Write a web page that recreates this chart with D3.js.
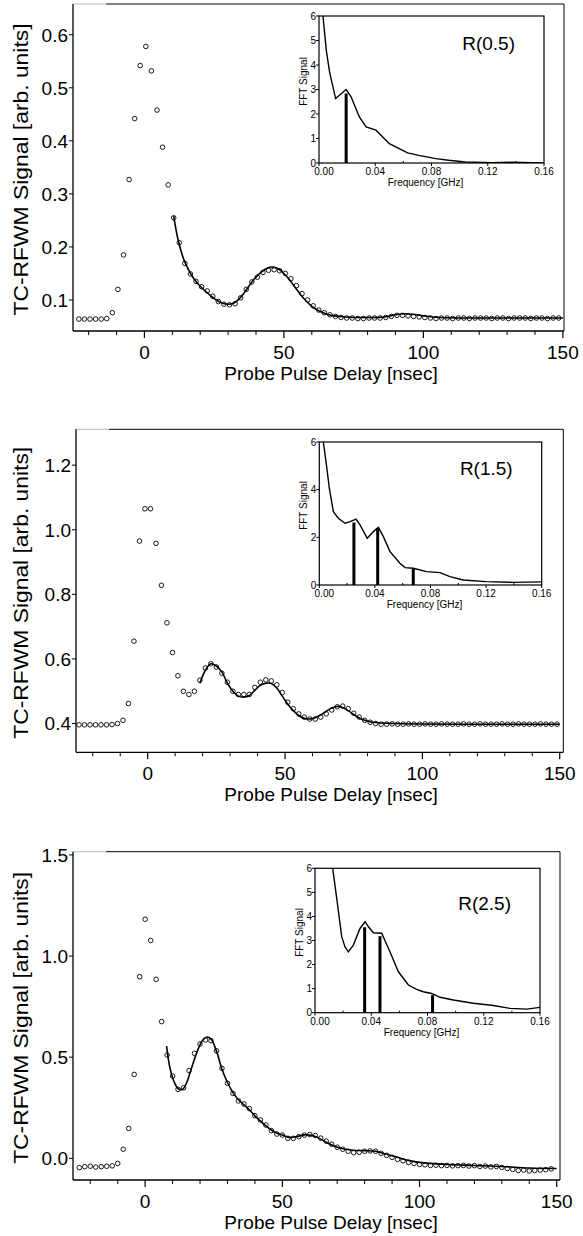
<!DOCTYPE html>
<meta charset="utf-8">
<style>
  body { margin: 0; background: #fff; }
  text { font-family: "Liberation Sans", Arial, Helvetica, sans-serif; fill: #000; }
</style>
<body>
<script src="https://cdn.jsdelivr.net/npm/d3@7/dist/d3.min.js"></script>
<script>
// ---- R(0.5) ----
var delay1 = [-23.5,-21.5,-19.5,-17.5,-15.5,-13.5,-11.5,-9.5,-7.5,-5.5,-3.5,-1.5,0.5,2.5,4.5,6.5,8.5,10.5,12.5,14.5,
  16.5,18.5,20.5,22.5,24.5,26.5,28.5,30.5,32.5,34.5,36.5,38.5,40.5,42.5,44.5,46.5,48.5,50.5,52.5,54.5,
  56.5,58.5,60.5,62.5,64.5,66.5,68.5,70.5,72.5,74.5,76.5,78.5,80.5,82.5,84.5,86.5,88.5,90.5,92.5,94.5,
  96.5,98.5,100.5,102.5,104.5,106.5,108.5,110.5,112.5,114.5,116.5,118.5,120.5,122.5,124.5,126.5,128.5,130.5,
  132.5,134.5,136.5,138.5,140.5,142.5,144.5,146.5,148.5];
var signal1 = [0.064,0.064,0.064,0.064,0.064,0.065,0.076,0.12,0.185,0.327,0.442,0.542,0.578,0.532,0.458,0.388,0.317,0.255,0.208,0.169,
  0.149,0.135,0.125,0.117,0.107,0.097,0.092,0.091,0.093,0.104,0.12,0.134,0.143,0.152,0.156,0.157,0.155,0.15,0.14,0.127,
  0.112,0.1,0.089,0.081,0.076,0.072,0.069,0.067,0.066,0.066,0.065,0.065,0.066,0.066,0.066,0.067,0.069,0.071,0.071,0.07,
  0.069,0.068,0.067,0.066,0.065,0.066,0.066,0.065,0.066,0.066,0.065,0.066,0.066,0.066,0.065,0.066,0.066,0.065,
  0.066,0.066,0.066,0.065,0.066,0.066,0.065,0.066,0.066];
var fitT1 = [10.5,12,14,16,18,20,22,24,26,28,30,32,34,36,38,40,42,44,46,48,50,52,54,56,58,60,62,64,66,68,72,80,86,90,93,96,100,106,120,150];
var fitV1 = [0.258,0.215,0.178,0.155,0.138,0.126,0.116,0.107,0.099,0.094,0.092,0.094,0.102,0.115,0.13,0.143,0.153,0.16,0.162,0.159,
  0.15,0.138,0.124,0.11,0.098,0.088,0.081,0.076,0.072,0.07,0.068,0.067,0.068,0.072,0.074,0.073,0.07,0.067,0.066,0.066];
var fftF1 = [0.0028,0.004,0.0052,0.0075,0.0118,0.0193,0.0228,0.0287,0.0335,0.0405,0.0429,0.05,0.063,0.071,0.083,0.0923,0.104,0.123,0.137,0.16];
var fftA1 = [6,5.3,4.6,3.72,2.63,3.0,2.7,1.88,1.47,1.34,1.2,0.79,0.41,0.31,0.18,0.11,0.04,0.01,0.03,0];
var barF1 = [0.0193];
var barH1 = [2.84];

// ---- R(1.5) ----
var delay2 = [-25,-23,-21,-19,-17,-15,-13,-11,-9,-7,-5,-3,-1,1,3,5,7,9,11,13,15,17,19,21,23,25,27,29,31,33,
  35,37,39,41,43,45,47,49,51,53,55,57,59,61,63,65,67,69,71,73,75,77,79,81,83,85,87,89,91,93,
  95,97,99,101,103,105,107,109,111,113,115,117,119,121,123,125,127,129,131,133,135,137,139,141,143,145,147,149];
var signal2 = [0.396,0.396,0.396,0.396,0.396,0.396,0.397,0.4,0.41,0.462,0.655,0.965,1.065,1.065,0.958,0.828,0.712,0.62,0.548,0.5,
  0.49,0.5,0.534,0.572,0.585,0.575,0.556,0.528,0.5,0.49,0.49,0.49,0.512,0.528,0.535,0.532,0.52,0.496,0.466,0.446,
  0.43,0.42,0.414,0.414,0.42,0.43,0.442,0.452,0.454,0.446,0.432,0.42,0.41,0.404,0.4,0.398,0.398,0.399,0.398,0.398,
  0.399,0.398,0.398,0.399,0.398,0.398,0.399,0.398,0.398,0.398,0.399,0.398,0.398,0.399,0.398,0.398,0.398,0.399,
  0.398,0.398,0.399,0.398,0.398,0.398,0.399,0.398,0.398,0.398];
var fitT2 = [19,21,23,25,27,29,31,33,35,37,39,41,43,45,47,49,51,53,55,57,59,61,63,65,67,69,71,73,75,77,79,82,90,150];
var fitV2 = [0.525,0.565,0.585,0.578,0.56,0.525,0.5,0.485,0.482,0.487,0.503,0.518,0.525,0.524,0.51,0.485,0.46,0.44,0.425,0.416,
  0.414,0.418,0.427,0.438,0.448,0.453,0.45,0.44,0.428,0.417,0.41,0.404,0.4,0.398];
var fftF2 = [0.0029,0.0053,0.0072,0.0101,0.0137,0.0185,0.0221,0.0264,0.0293,0.0345,0.0389,0.0425,0.0461,0.0509,0.058,0.0617,0.0676,0.0772,0.0868,0.094,0.1036,0.12,0.14,0.16];
var fftA2 = [6,4.97,4.06,3.08,2.8,2.59,2.66,2.76,2.52,1.96,2.24,2.42,2.03,1.4,0.91,0.73,0.7,0.56,0.52,0.35,0.21,0.14,0.11,0.13];
var barF2 = [0.0249,0.042,0.0676];
var barH2 = [2.62,2.38,0.7];

// ---- R(2.5) ----
var delay3 = [-24,-22,-20,-18,-16,-14,-12,-10,-8,-6,-4,-2,0,2,4,6,8,10,12,14,16,18,20,22,24,26,28,30,32,34,
  36,38,40,42,44,46,48,50,52,54,56,58,60,62,64,66,68,70,72,74,76,78,80,82,84,86,88,90,92,94,
  96,98,100,102,104,106,108,110,112,114,116,118,120,122,124,126,128,130,132,134,136,138,140,142,144,146,148];
var signal3 = [-0.046,-0.041,-0.039,-0.043,-0.041,-0.039,-0.037,-0.025,0.045,0.148,0.415,0.898,1.182,1.077,0.885,0.676,0.511,0.407,0.341,0.349,
  0.434,0.519,0.565,0.585,0.582,0.532,0.445,0.371,0.321,0.284,0.269,0.246,0.211,0.19,0.165,0.137,0.12,0.115,0.099,0.099,
  0.107,0.115,0.118,0.113,0.1,0.085,0.07,0.055,0.045,0.035,0.028,0.03,0.035,0.037,0.035,0.025,0.015,0.005,-0.005,-0.012,
  -0.02,-0.025,-0.03,-0.032,-0.035,-0.034,-0.036,-0.035,-0.037,-0.036,-0.035,-0.038,-0.036,-0.04,-0.038,-0.042,-0.04,-0.045,
  -0.05,-0.055,-0.06,-0.058,-0.062,-0.06,-0.058,-0.056,-0.052];
var fitT3 = [7.8,9,10.5,12,13.5,15,17,19,21,22.5,24,26,28,30,32,34,36,38,40,42,44,46,48,50,52,54,56,58,60,62,64,66,68,70,73,76,80,84,88,92,96,100,110,120,130,140,150];
var fitV3 = [0.555,0.45,0.38,0.345,0.34,0.37,0.45,0.53,0.585,0.6,0.59,0.53,0.44,0.375,0.325,0.29,0.265,0.24,0.21,0.185,
  0.16,0.14,0.125,0.115,0.105,0.104,0.11,0.116,0.115,0.108,0.095,0.08,0.066,0.055,0.045,0.04,0.038,0.035,0.02,0.005,
  -0.01,-0.02,-0.03,-0.035,-0.04,-0.048,-0.05];
var fftF3 = [0.0126,0.0159,0.019,0.0213,0.0237,0.0273,0.032,0.0356,0.038,0.0415,0.0474,0.0533,0.0593,0.0664,0.0723,0.077,0.083,0.0889,0.0984,0.1126,0.1268,0.1387,0.1505,0.16];
var fftA3 = [6,4.54,3.16,2.74,2.53,2.81,3.5,3.78,3.57,3.32,3.3,2.53,1.7,1.15,0.97,0.87,0.8,0.64,0.53,0.39,0.3,0.18,0.15,0.22];
var barF3 = [0.0353,0.0462,0.0836];
var barH3 = [3.55,3.18,0.73];

var mainTicks1 = [0.1,0.2,0.3,0.4,0.5,0.6];
var mainTicks2 = [0.4,0.6,0.8,1.0,1.2];
var mainTicks3 = [0.0,0.5,1.0,1.5];
var delayTicks = [0,50,100,150];
var delayMinor = [-20,-10,10,20,30,40,60,70,80,90,110,120,130,140];
var freqTicks = [0,0.04,0.08,0.12,0.16];
var freqMinor = [0.02,0.06,0.1,0.14];

var svg = d3.select("body").append("svg")
    .attr("width", 583)
    .attr("height", 1236);
svg.append("rect").attr("width", 583).attr("height", 1236).attr("fill", "#fff");

var panels = [
  {delay: delay1, signal: signal1, fitT: fitT1, fitV: fitV1, fftF: fftF1, fftA: fftA1, barF: barF1, barH: barH1,
   label: "R(0.5)", xr: [73, 564], xd: [-25.6, 150.4], yr: [331, 4], yd: [0.0415, 0.658], yt: mainTicks1, fmt: ".1f",
   ix: [319, 544], iy: [163, 16], it: [0,1,2,3,4,5,6], labDy: 34},
  {delay: delay2, signal: signal2, fitT: fitT2, fitV: fitV2, fftF: fftF2, fftA: fftA2, barF: barF2, barH: barH2,
   label: "R(1.5)", xr: [76, 563.3], xd: [-26.1, 151.3], yr: [752.3, 429.3], yd: [0.311, 1.311], yt: mainTicks2, fmt: ".1f",
   ix: [319.3, 541.7], iy: [585, 442], it: [0,2,4,6], labDy: 33},
  {delay: delay3, signal: signal3, fitT: fitT3, fitV: fitV3, fftF: fftF3, fftA: fftA3, barF: barF3, barH: barH3,
   label: "R(2.5)", xr: [73, 560], xd: [-26.3, 151.2], yr: [1180, 851.7], yd: [-0.107, 1.516], yt: mainTicks3, fmt: ".1f",
   ix: [315, 540], iy: [1012.7, 868.3], it: [0,1,2,3,4,5,6], labDy: 42}
];

panels.forEach(function(p, i) {
    var x = d3.scaleLinear().domain(p.xd).range(p.xr);
    var y = d3.scaleLinear().domain(p.yd).range(p.yr);
    var g = svg.append("g");
    var x0 = p.xr[0], x1 = p.xr[1], yb = p.yr[0], yt = p.yr[1];

    // frame
    g.append("line").attr("x1", x0).attr("x2", x0 + 33).attr("y1", yt).attr("y2", yt)
        .attr("stroke", "#bbb").attr("stroke-width", 1);
    g.append("line").attr("x1", x0 + 33).attr("x2", x1).attr("y1", yt).attr("y2", yt)
        .attr("stroke", "#000").attr("stroke-width", 1);
    g.append("line").attr("x1", x1).attr("x2", x1).attr("y1", yt).attr("y2", yb)
        .attr("stroke", "#000").attr("stroke-width", 1);
    g.append("line").attr("x1", x0).attr("x2", x0).attr("y1", yt).attr("y2", yb)
        .attr("stroke", "#000").attr("stroke-width", 1.3);
    g.append("line").attr("x1", x0).attr("x2", x1).attr("y1", yb).attr("y2", yb)
        .attr("stroke", "#000").attr("stroke-width", 1.3);

    // x ticks
    g.selectAll(".xmaj").data(delayTicks).enter().append("line")
        .attr("x1", function(d) { return x(d); }).attr("x2", function(d) { return x(d); })
        .attr("y1", yb).attr("y2", yb + 7).attr("stroke", "#000").attr("stroke-width", 1.2);
    g.selectAll(".xmin").data(delayMinor).enter().append("line")
        .attr("x1", function(d) { return x(d); }).attr("x2", function(d) { return x(d); })
        .attr("y1", yb).attr("y2", yb + 4).attr("stroke", "#000").attr("stroke-width", 1);
    g.selectAll(".xlab").data(delayTicks).enter().append("text")
        .attr("x", function(d) { return x(d); }).attr("y", yb + 28)
        .attr("text-anchor", "middle").style("font-size", "19px")
        .text(function(d) { return d; });
    g.append("text").attr("x", 331).attr("y", yb + 49)
        .attr("text-anchor", "middle").style("font-size", "19px")
        .text("Probe Pulse Delay [nsec]");

    // y ticks
    g.selectAll(".ytk").data(p.yt).enter().append("line")
        .attr("x1", x0 - 4).attr("x2", x0)
        .attr("y1", function(d) { return y(d); }).attr("y2", function(d) { return y(d); })
        .attr("stroke", "#000").attr("stroke-width", 1);
    g.selectAll(".ylab").data(p.yt).enter().append("text")
        .attr("x", x0 - 5).attr("y", function(d) { return y(d); }).attr("dy", "0.36em")
        .attr("text-anchor", "end").style("font-size", "19px")
        .text(function(d) { return d3.format(p.fmt)(d); });
    g.append("text")
        .attr("transform", "translate(28," + ((yb + yt) / 2 + 2) + ") rotate(-90)")
        .attr("text-anchor", "middle").style("font-size", "21px")
        .attr("textLength", 292).attr("lengthAdjust", "spacingAndGlyphs")
        .text("TC-RFWM Signal [arb. units]");

    // data points
    g.selectAll(".pt").data(p.delay).enter().append("circle")
        .attr("cx", function(d) { return x(d); })
        .attr("cy", function(d, k) { return y(p.signal[k]); })
        .attr("r", 2.3)
        .attr("fill", "none").attr("stroke", "#000").attr("stroke-width", 0.9);

    // fit
    var fit = d3.line()
        .x(function(d) { return x(d); })
        .y(function(d, k) { return y(p.fitV[k]); })
        .curve(d3.curveCatmullRom);
    g.append("path").attr("d", fit(p.fitT))
        .attr("fill", "none").attr("stroke", "#000").attr("stroke-width", 1.6);

    // inset
    var fx = d3.scaleLinear().domain([0, 0.16]).range(p.ix);
    var fy = d3.scaleLinear().domain([0, 6]).range(p.iy);
    var ig = g.append("g");
    ig.append("rect").attr("x", p.ix[0]).attr("y", p.iy[1])
        .attr("width", p.ix[1] - p.ix[0]).attr("height", p.iy[0] - p.iy[1])
        .attr("fill", "#fff").attr("stroke", "#000").attr("stroke-width", 1.2);
    ig.append("clipPath").attr("id", "ic" + i).append("rect")
        .attr("x", p.ix[0]).attr("y", p.iy[1])
        .attr("width", p.ix[1] - p.ix[0]).attr("height", p.iy[0] - p.iy[1]);

    ig.selectAll(".bar").data(p.barF).enter().append("line")
        .attr("x1", function(d) { return fx(d); }).attr("x2", function(d) { return fx(d); })
        .attr("y1", fy(0)).attr("y2", function(d, k) { return fy(p.barH[k]); })
        .attr("stroke", "#000").attr("stroke-width", 3);
    var fl = d3.line()
        .x(function(d) { return fx(d); })
        .y(function(d, k) { return fy(p.fftA[k]); });
    ig.append("path").attr("d", fl(p.fftF)).attr("clip-path", "url(#ic" + i + ")")
        .attr("fill", "none").attr("stroke", "#000").attr("stroke-width", 1.4);

    ig.selectAll(".fmaj").data(freqTicks).enter().append("line")
        .attr("x1", function(d) { return fx(d); }).attr("x2", function(d) { return fx(d); })
        .attr("y1", p.iy[0]).attr("y2", p.iy[0] + 3).attr("stroke", "#000").attr("stroke-width", 1);
    ig.selectAll(".fmin").data(freqMinor).enter().append("line")
        .attr("x1", function(d) { return fx(d); }).attr("x2", function(d) { return fx(d); })
        .attr("y1", p.iy[0]).attr("y2", p.iy[0] - 2).attr("stroke", "#000").attr("stroke-width", 1);
    ig.selectAll(".flab").data(freqTicks).enter().append("text")
        .attr("x", function(d) { return fx(d) + (d === 0 ? 5 : 0); }).attr("y", p.iy[0] + 12)
        .attr("text-anchor", "middle").style("font-size", "10px")
        .text(function(d) { return d3.format(".2f")(d); });
    ig.append("text").attr("x", (p.ix[0] + p.ix[1]) / 2 - 6).attr("y", p.iy[0] + 23)
        .attr("text-anchor", "middle").style("font-size", "10px")
        .text("Frequency [GHz]");

    ig.selectAll(".atk").data(p.it).enter().append("line")
        .attr("x1", p.ix[0] - 3).attr("x2", p.ix[0])
        .attr("y1", function(d) { return fy(d); }).attr("y2", function(d) { return fy(d); })
        .attr("stroke", "#000").attr("stroke-width", 1);
    ig.selectAll(".alab").data(p.it).enter().append("text")
        .attr("x", p.ix[0] - 3).attr("y", function(d) { return fy(d); }).attr("dy", "0.36em")
        .attr("text-anchor", "end").style("font-size", "10px")
        .text(function(d) { return d; });
    ig.append("text")
        .attr("transform", "translate(" + (p.ix[0] - 12) + "," + ((p.iy[0] + p.iy[1]) / 2 - 8) + ") rotate(-90)")
        .attr("text-anchor", "middle").style("font-size", "10px")
        .text("FFT Signal");

    ig.append("text").attr("x", p.ix[1] - 29).attr("y", p.iy[1] + p.labDy)
        .attr("text-anchor", "end").style("font-size", "19px")
        .text(p.label);
});
</script>
</body>
